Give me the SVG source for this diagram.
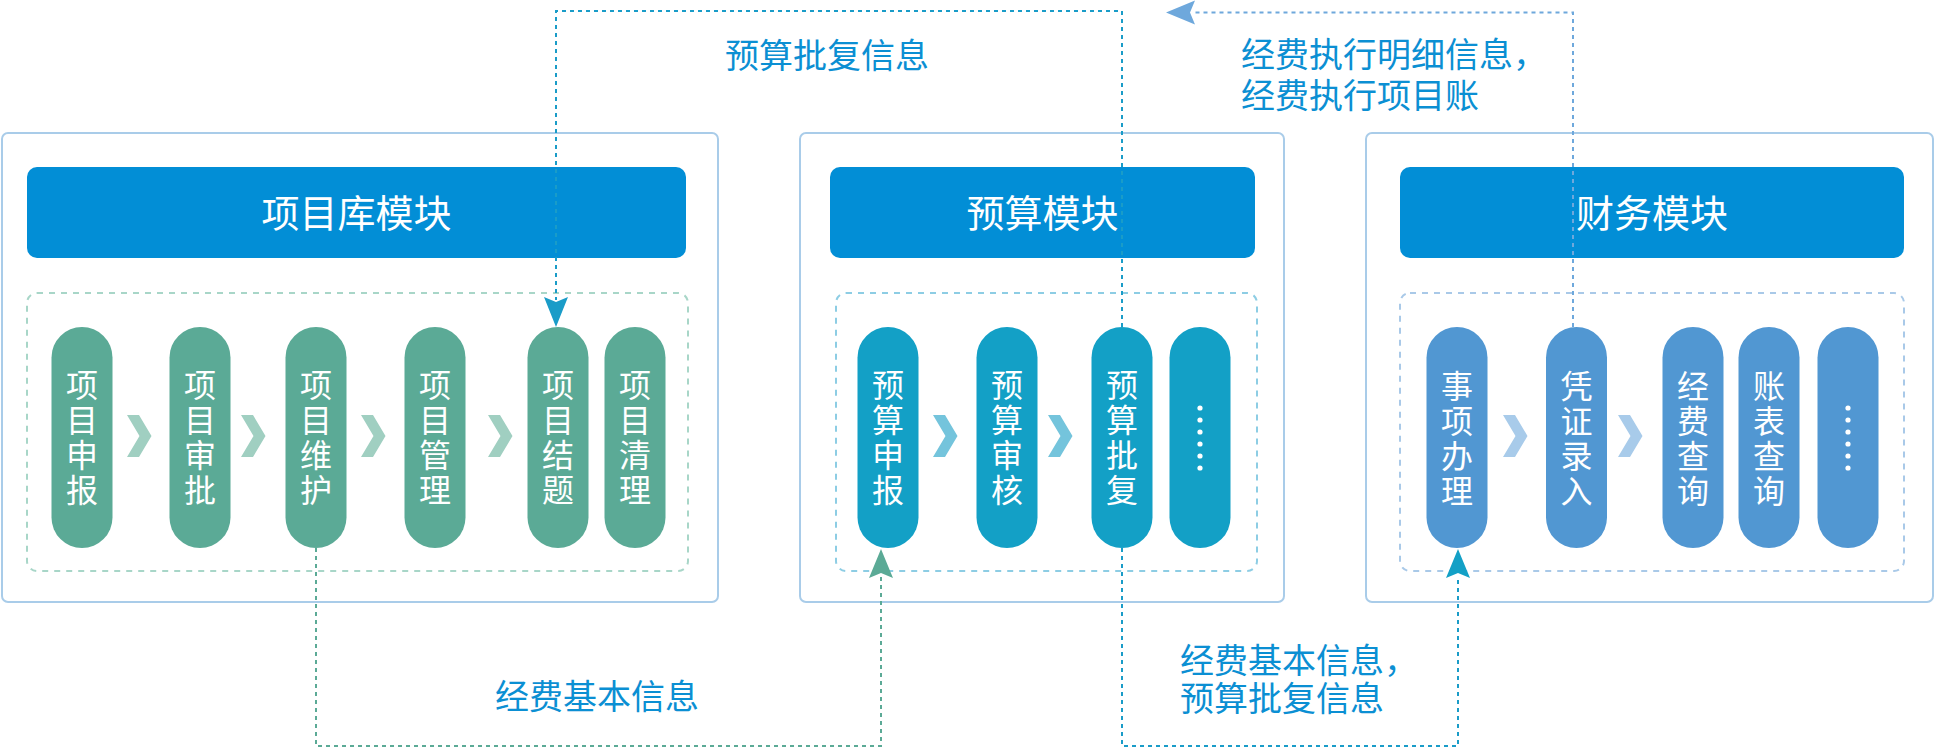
<svg xmlns="http://www.w3.org/2000/svg" width="1935" height="749" viewBox="0 0 1935 749">
<style>
  .outer{fill:#fff;stroke:#a9cce9;stroke-width:2}
  .hdr{fill:#028ed6}
  .hdrt{font-family:"Noto Sans CJK SC","Noto Sans",sans-serif;font-size:38px;fill:#fff;text-anchor:middle}
  .inner{fill:none;stroke-width:2;stroke-dasharray:6 6}
  .pt{font-family:"Noto Sans CJK SC","Noto Sans",sans-serif;font-size:32px;fill:#fff;text-anchor:middle;writing-mode:vertical-rl;letter-spacing:3px}
  .g{fill:#5baa96}
  .b{fill:#13a0c6}
  .f{fill:#5197d2}
  .lbl{font-family:"Noto Sans CJK SC","Noto Sans",sans-serif;font-size:34px;fill:#0b8fd3}
  .con{fill:none;stroke-width:2;stroke-dasharray:4 4}
</style>
<defs>
  <path id="chev" d="M0,0 L12,0 L24.5,21 L12,42 L0,42 L12.5,21 Z"/>
  <g id="dots" fill="#fff">
    <circle cx="0" cy="0" r="2.6"/><circle cx="0" cy="12" r="2.6"/><circle cx="0" cy="24" r="2.6"/>
    <circle cx="0" cy="36" r="2.6"/><circle cx="0" cy="48" r="2.6"/><circle cx="0" cy="60" r="2.6"/>
  </g>
</defs>
<rect width="1935" height="749" fill="#fff"/>

<g id="module-project">
  <rect class="outer" x="2" y="133" width="716" height="469" rx="6"/>
  <rect class="hdr" x="27" y="167" width="659" height="91" rx="10"/>
  <text class="hdrt" x="356.5" y="227">项目库模块</text>
  <rect class="inner" x="27" y="293" width="661" height="278" rx="10" stroke="#a8d6c8"/>
  <g id="p1"><rect class="g" x="51.5" y="327" width="61" height="221" rx="30.5"/>
    <text class="pt" x="82" y="439">项目申报</text></g>
  <g id="p2"><rect class="g" x="169.5" y="327" width="61" height="221" rx="30.5"/>
    <text class="pt" x="200" y="439">项目审批</text></g>
  <g id="p3"><rect class="g" x="285.5" y="327" width="61" height="221" rx="30.5"/>
    <text class="pt" x="316" y="439">项目维护</text></g>
  <g id="p4"><rect class="g" x="404.5" y="327" width="61" height="221" rx="30.5"/>
    <text class="pt" x="435" y="439">项目管理</text></g>
  <g id="p5"><rect class="g" x="527.5" y="327" width="61" height="221" rx="30.5"/>
    <text class="pt" x="558" y="439">项目结题</text></g>
  <g id="p6"><rect class="g" x="604.5" y="327" width="61" height="221" rx="30.5"/>
    <text class="pt" x="635" y="439">项目清理</text></g>
  <g fill="#a0cfc1">
    <use href="#chev" x="127" y="415"/><use href="#chev" x="241" y="415"/>
    <use href="#chev" x="361" y="415"/><use href="#chev" x="488" y="415"/>
  </g>
</g>

<g id="module-budget">
  <rect class="outer" x="800" y="133" width="484" height="469" rx="6"/>
  <rect class="hdr" x="830" y="167" width="425" height="91" rx="10"/>
  <text class="hdrt" x="1042.5" y="227">预算模块</text>
  <rect class="inner" x="836" y="293" width="421" height="278" rx="10" stroke="#8dcde4"/>
  <g id="b1"><rect class="b" x="857.5" y="327" width="61" height="221" rx="30.5"/>
    <text class="pt" x="888" y="439">预算申报</text></g>
  <g id="b2"><rect class="b" x="976.5" y="327" width="61" height="221" rx="30.5"/>
    <text class="pt" x="1007" y="439">预算审核</text></g>
  <g id="b3"><rect class="b" x="1091.5" y="327" width="61" height="221" rx="30.5"/>
    <text class="pt" x="1122" y="439">预算批复</text></g>
  <g id="b4"><rect class="b" x="1169.5" y="327" width="61" height="221" rx="30.5"/>
    <use href="#dots" x="1200" y="408"/></g>
  <g fill="#74c4dc">
    <use href="#chev" x="933" y="415"/><use href="#chev" x="1048" y="415"/>
  </g>
</g>

<g id="module-finance">
  <rect class="outer" x="1366" y="133" width="567" height="469" rx="6"/>
  <rect class="hdr" x="1400" y="167" width="504" height="91" rx="10"/>
  <text class="hdrt" x="1652" y="227">财务模块</text>
  <rect class="inner" x="1400" y="293" width="504" height="278" rx="10" stroke="#a9c9e8"/>
  <g id="f1"><rect class="f" x="1426.5" y="327" width="61" height="221" rx="30.5"/>
    <text class="pt" x="1457" y="440">事项办理</text></g>
  <g id="f2"><rect class="f" x="1546" y="327" width="61" height="221" rx="30.5"/>
    <text class="pt" x="1576.5" y="440">凭证录入</text></g>
  <g id="f3"><rect class="f" x="1662.5" y="327" width="61" height="221" rx="30.5"/>
    <text class="pt" x="1693" y="440">经费查询</text></g>
  <g id="f4"><rect class="f" x="1738.5" y="327" width="61" height="221" rx="30.5"/>
    <text class="pt" x="1769" y="440">账表查询</text></g>
  <g id="f5"><rect class="f" x="1817.5" y="327" width="61" height="221" rx="30.5"/>
    <use href="#dots" x="1848" y="408"/></g>
  <g fill="#a8cbea">
    <use href="#chev" x="1503" y="415"/><use href="#chev" x="1618" y="415"/>
  </g>
</g>

<g id="connectors">
  <path class="con" stroke="#5baa96" d="M316,548 V746 H881 V576"/>
  <path fill="#5baa96" d="M881,549 L893,578 L881,573 L869,578 Z"/>
  <path class="con" stroke="#1a9cc8" d="M1122,327 V11 H556 V300"/>
  <path fill="#1a9cc8" d="M556,327 L544,297 L556,302 L568,297 Z"/>
  <path class="con" stroke="#1a9cc8" d="M1122,548 V746 H1458 V576"/>
  <path fill="#13a0c6" d="M1458,549 L1470,578 L1458,573 L1446,578 Z"/>
  <path class="con" stroke="#6ea8dc" d="M1573,327 V12.5 H1192"/>
  <path fill="#6ea8dc" d="M1166,12.5 L1195,0.5 L1190,12.5 L1195,24.5 Z"/>
</g>

<g id="labels">
  <text class="lbl" x="725" y="68">预算批复信息</text>
  <text class="lbl" x="1241" y="67">经费执行明细信息，</text>
  <text class="lbl" x="1241" y="108">经费执行项目账</text>
  <text class="lbl" x="495" y="709">经费基本信息</text>
  <text class="lbl" x="1180" y="673">经费基本信息，</text>
  <text class="lbl" x="1180" y="711">预算批复信息</text>
</g>
</svg>
